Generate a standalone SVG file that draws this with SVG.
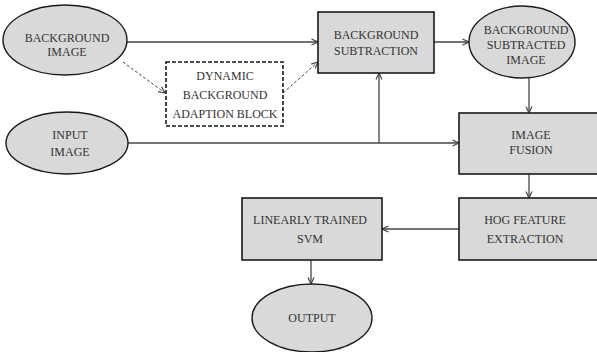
<svg xmlns="http://www.w3.org/2000/svg" width="597" height="352" viewBox="0 0 597 352">
<style>
.n{fill:#d9d9d9;stroke:#1a1a1a;stroke-width:1.6}
.e{fill:#d9d9d9;stroke:#1a1a1a;stroke-width:1.4}
.d{fill:#fff;stroke:#1a1a1a;stroke-width:1.6;stroke-dasharray:4,2}
.t{font-family:"Liberation Serif","Times New Roman",serif;font-size:12px;fill:#333;text-anchor:middle}
.c{fill:none;stroke:#444;stroke-width:1.3;marker-end:url(#a)}
.cd{fill:none;stroke:#444;stroke-width:1;stroke-dasharray:3,2;marker-end:url(#a)}
</style>
<defs>
<marker id="a" viewBox="0 0 8 8" refX="7.5" refY="4" markerWidth="8" markerHeight="8" markerUnits="userSpaceOnUse" orient="auto">
<path d="M1,1 L7.5,4 L1,7" fill="none" stroke="#444" stroke-width="1.2"/>
</marker>
</defs>
<rect width="597" height="352" fill="#fff"/>
<g id="connectors">
<path class="c" d="M127,42 H318"/>
<path class="cd" d="M123,62 L165,93"/>
<path class="cd" d="M283,93 L318,62"/>
<path class="c" d="M434,42 H469"/>
<path class="c" d="M529,78 V113"/>
<path class="c" d="M128,143 H459"/>
<path class="c" d="M379,143 V73"/>
<path class="c" d="M529,174 V198"/>
<path class="c" d="M459,229 H382"/>
<path class="c" d="M311,260 V284"/>
</g>
<g id="bg-image">
<ellipse class="e" cx="65" cy="40" rx="62" ry="35"/>
<text class="t" x="67" y="42">BACKGROUND</text>
<text class="t" x="67" y="56">IMAGE</text>
</g>
<g id="dynamic">
<rect class="d" x="166" y="62" width="117" height="64"/>
<text class="t" x="225" y="80">DYNAMIC</text>
<text class="t" x="225" y="99">BACKGROUND</text>
<text class="t" x="225" y="118">ADAPTION BLOCK</text>
</g>
<g id="input-image">
<ellipse class="e" cx="67" cy="143" rx="61" ry="31"/>
<text class="t" x="70" y="139">INPUT</text>
<text class="t" x="70" y="156">IMAGE</text>
</g>
<g id="bg-subtraction">
<rect class="n" x="318" y="12" width="116" height="61"/>
<text class="t" x="376" y="39">BACKGROUND</text>
<text class="t" x="376" y="55">SUBTRACTION</text>
</g>
<g id="bg-subtracted">
<ellipse class="e" cx="522" cy="42" rx="53" ry="36"/>
<text class="t" x="526" y="34">BACKGROUND</text>
<text class="t" x="526" y="49">SUBTRACTED</text>
<text class="t" x="526" y="64">IMAGE</text>
</g>
<g id="image-fusion">
<rect class="n" x="459" y="113" width="140" height="61"/>
<text class="t" x="531" y="139">IMAGE</text>
<text class="t" x="531" y="154">FUSION</text>
</g>
<g id="hog">
<rect class="n" x="459" y="198" width="140" height="62"/>
<text class="t" x="525" y="224">HOG FEATURE</text>
<text class="t" x="525" y="243">EXTRACTION</text>
</g>
<g id="svm">
<rect class="n" x="242" y="198" width="140" height="62"/>
<text class="t" x="310" y="224">LINEARLY TRAINED</text>
<text class="t" x="310" y="243">SVM</text>
</g>
<g id="output">
<ellipse class="e" cx="312" cy="318" rx="60" ry="34"/>
<text class="t" x="312" y="322">OUTPUT</text>
</g>
</svg>
